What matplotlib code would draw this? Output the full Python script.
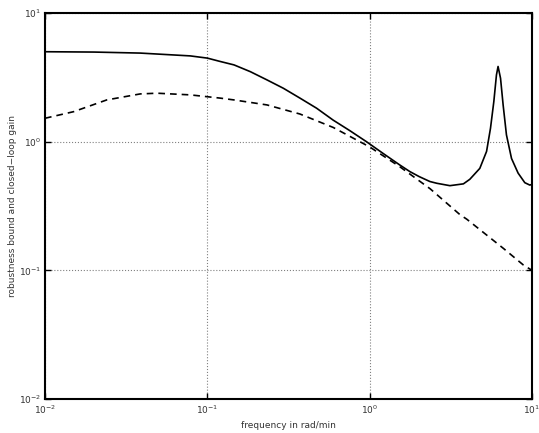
import matplotlib
matplotlib.use("Agg")
import matplotlib.pyplot as plt

# robustness bound (solid)
freq_bound = [0.01, 0.02, 0.0386, 0.0785, 0.1, 0.12, 0.146, 0.184, 0.233, 0.294, 0.372,
              0.471, 0.596, 0.753, 0.955, 1.21, 1.53, 1.77, 2.02, 2.35, 2.59,
              3.12, 3.78, 4.14, 4.77, 5.25, 5.55, 5.82, 6.04, 6.18, 6.40,
              6.64, 6.96, 7.48, 8.21, 9.03, 9.69, 10.0]
gain_bound = [5.0, 4.97, 4.88, 4.64, 4.46, 4.2, 3.95, 3.5, 3.02, 2.6, 2.18,
              1.82, 1.47, 1.22, 1.0, 0.81, 0.66, 0.585, 0.535, 0.49, 0.475,
              0.455, 0.47, 0.51, 0.62, 0.84, 1.27, 2.05, 3.3, 3.84, 3.11,
              1.93, 1.13, 0.74, 0.57, 0.48, 0.46, 0.465]

# closed-loop gain (dashed)
freq_cl = [0.01, 0.015, 0.024, 0.0386, 0.049, 0.0785, 0.12, 0.146, 0.233, 0.372, 0.596,
           1.0, 1.53, 2.36, 3.61, 3.96, 6.67, 8.85, 10.0]
gain_cl = [1.52, 1.71, 2.11, 2.35, 2.38, 2.31, 2.18, 2.11, 1.93, 1.64, 1.29,
           0.91, 0.64, 0.43, 0.27, 0.25, 0.148, 0.11, 0.1]

plt.rcParams["font.family"] = "DejaVu Sans"

fig = plt.figure(figsize=(5.39, 4.33), dpi=100)
ax = fig.add_axes([0.0835, 0.0785, 0.9035, 0.8915])

ax.loglog(freq_bound, gain_bound, color="black", lw=1.2)
ax.loglog(freq_cl, gain_cl, color="black", lw=1.2, ls="--", dashes=(4, 3))

ax.set_xlim(1e-2, 1e1)
ax.set_ylim(1e-2, 1e1)
ax.set_xticks([1e-2, 1e-1, 1e0, 1e1])
ax.set_yticks([1e-2, 1e-1, 1e0, 1e1])
ax.minorticks_off()
ax.grid(True, which="major", color="gray", ls=":", lw=0.8)
ax.tick_params(direction="in", length=4, width=1, labelsize=6.5, colors="black",
               labelcolor="#333333", top=True, right=True, pad=3)
for s in ax.spines.values():
    s.set_linewidth(1.5)

ax.set_xlabel("frequency in rad/min", fontsize=6.5, color="#333333")
ax.set_ylabel("robustness bound and closed\u2212loop gain", fontsize=6.5,
              color="#333333", labelpad=1)

fig.savefig("out.png", dpi=100)
